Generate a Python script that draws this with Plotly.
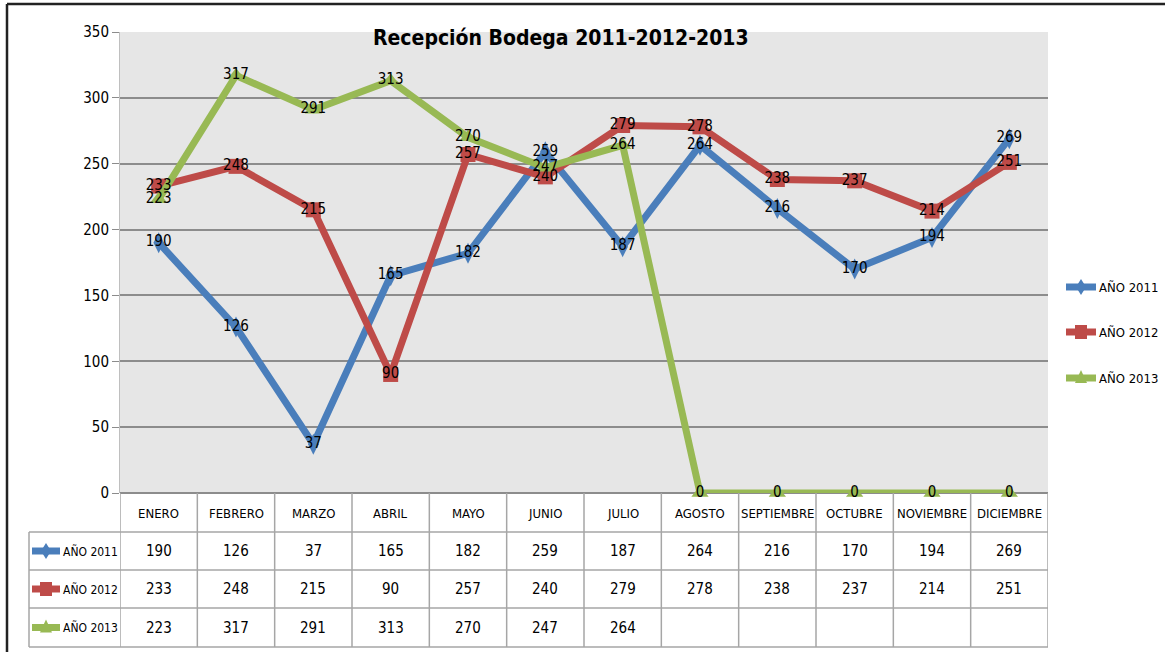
import plotly.graph_objects as go

months = ["ENERO", "FEBRERO", "MARZO", "ABRIL", "MAYO", "JUNIO", "JULIO",
          "AGOSTO", "SEPTIEMBRE", "OCTUBRE", "NOVIEMBRE", "DICIEMBRE"]
series_names = ["AÑO 2011", "AÑO 2012", "AÑO 2013"]
v2011 = [190, 126, 37, 165, 182, 259, 187, 264, 216, 170, 194, 269]
v2012 = [233, 248, 215, 90, 257, 240, 279, 278, 238, 237, 214, 251]
v2013 = [223, 317, 291, 313, 270, 247, 264, 0, 0, 0, 0, 0]
table2013 = ["223", "317", "291", "313", "270", "247", "264", "", "", "", "", ""]

colors = ["#4a7ebb", "#be4b48", "#98b954"]
symbols = ["diamond-tall", "square", "triangle-up"]
msizes = [15, 15, 15]

FONT = "DejaVu Sans Condensed, Liberation Sans Narrow, sans-serif"
W, H = 1165, 658
L, R, T, B = 120, 1048, 32, 493
YMAX = 350


def px(x):
    return (x - L) / (R - L)


def py(y):
    return (B - y) / (B - T)


def key_marker(cx, cy, kind, color):
    # small legend-key marker drawn as a paper-space path (pixel geometry)
    if kind == 0:
        pts = [(cx, cy - 8), (cx + 5, cy), (cx, cy + 8), (cx - 5, cy)]
    elif kind == 1:
        pts = [(cx - 6, cy - 7), (cx + 6, cy - 7), (cx + 6, cy + 7), (cx - 6, cy + 7)]
    else:
        pts = [(cx, cy - 8), (cx + 6, cy + 5), (cx - 6, cy + 5)]
    path = "M " + " L ".join(f"{px(a):.5f},{py(b):.5f}" for a, b in pts) + " Z"
    return dict(type="path", xref="paper", yref="paper", path=path,
                fillcolor=color, line=dict(color=color, width=0))


fig = go.Figure()
xs = list(range(12))
vals = [v2011, v2012, v2013]
for i in range(3):
    fig.add_trace(go.Scatter(
        x=xs, y=vals[i], mode="lines+markers", name=series_names[i],
        line=dict(color=colors[i], width=7),
        marker=dict(symbol=symbols[i], size=msizes[i], color=colors[i]),
        cliponaxis=False, showlegend=False))
for i in range(3):
    fig.add_trace(go.Scatter(
        x=xs, y=vals[i], mode="text", text=[str(v) for v in vals[i]],
        textposition="middle center",
        textfont=dict(family=FONT, size=15, color="black"),
        showlegend=False, cliponaxis=False, hoverinfo="skip"))

rows_y = [493, 532, 570, 608, 647]
tab_left = 29
grid_c = "#a6a6a6"
shapes = []
for yy in rows_y[1:]:
    shapes.append(dict(type="line", xref="paper", yref="paper",
                       x0=px(tab_left), x1=px(R), y0=py(yy), y1=py(yy),
                       line=dict(color=grid_c, width=1.5)))
for k in range(13):
    shapes.append(dict(type="line", xref="x", yref="paper",
                       x0=k - 0.5, x1=k - 0.5, y0=py(493), y1=py(647),
                       line=dict(color=grid_c, width=1.5)))
shapes.append(dict(type="line", xref="paper", yref="paper",
                   x0=px(tab_left), x1=px(tab_left), y0=py(532), y1=py(647),
                   line=dict(color=grid_c, width=1.5)))
# outer border
shapes.append(dict(type="line", xref="paper", yref="paper",
                   x0=px(7), x1=px(1170), y0=py(4), y1=py(4),
                   line=dict(color="#222222", width=2.5)))
shapes.append(dict(type="line", xref="paper", yref="paper",
                   x0=px(7), x1=px(7), y0=py(4), y1=py(652),
                   line=dict(color="#222222", width=2.5)))

annotations = []
annotations.append(dict(text="<b>Recepción Bodega 2011-2012-2013</b>", xref="paper", yref="paper",
                        x=px(561), y=py(38), xanchor="center", yanchor="middle", showarrow=False,
                        font=dict(family=FONT, size=21, color="black")))
for k, m in enumerate(months):
    annotations.append(dict(text=m, xref="x", yref="paper", x=k, y=py(513),
                            xanchor="center", yanchor="middle",
                            showarrow=False, font=dict(family=FONT, size=13, color="black")))
table_rows = [[str(v) for v in v2011], [str(v) for v in v2012], table2013]
legend_y = [287, 332, 378]
for r, row in enumerate(table_rows):
    yc = (rows_y[r + 1] + rows_y[r + 2]) / 2
    for k, t in enumerate(row):
        if t:
            annotations.append(dict(text=t, xref="x", yref="paper", x=k, y=py(yc),
                                    xanchor="center", yanchor="middle",
                                    showarrow=False, font=dict(family=FONT, size=15, color="black")))
    annotations.append(dict(text=series_names[r], xref="paper", yref="paper", x=px(61), y=py(yc),
                            xanchor="left", yanchor="middle", showarrow=False,
                            font=dict(family=FONT, size=12, color="black")))
    # legend key in the table
    shapes.append(dict(type="line", xref="paper", yref="paper",
                       x0=px(32), x1=px(60), y0=py(yc), y1=py(yc),
                       line=dict(color=colors[r], width=7)))
    shapes.append(key_marker(46, yc, r, colors[r]))
    # right-hand legend
    ly = legend_y[r]
    shapes.append(dict(type="line", xref="paper", yref="paper",
                       x0=px(1066), x1=px(1096), y0=py(ly), y1=py(ly),
                       line=dict(color=colors[r], width=7)))
    shapes.append(key_marker(1081, ly, r, colors[r]))
    annotations.append(dict(text=series_names[r], xref="paper", yref="paper", x=px(1097), y=py(ly),
                            xanchor="left", yanchor="middle", showarrow=False,
                            font=dict(family=FONT, size=13, color="black")))

fig.update_layout(
    width=W, height=H,
    margin=dict(l=L, r=W - R, t=T, b=H - B, autoexpand=False),
    paper_bgcolor="white", plot_bgcolor="#e6e6e6",
    shapes=shapes, annotations=annotations,
    font=dict(family=FONT, size=14, color="black"),
    xaxis=dict(range=[-0.5, 11.5], showticklabels=False, showgrid=False,
               zeroline=False, showline=False, ticks=""),
    yaxis=dict(range=[0, YMAX], dtick=50, showgrid=True, gridcolor="#8c8c8c", gridwidth=2,
               zeroline=True, zerolinecolor="#8c8c8c", zerolinewidth=2,
               ticks="outside", ticklen=7, tickcolor="#8c8c8c",
               tickfont=dict(family=FONT, size=15, color="black"),
               showline=True, linecolor="#bfbfbf", linewidth=1),
    showlegend=False,
)

fig.write_html("out.html", config={"displayModeBar": False},
               post_script="document.body.style.margin='0px';")
